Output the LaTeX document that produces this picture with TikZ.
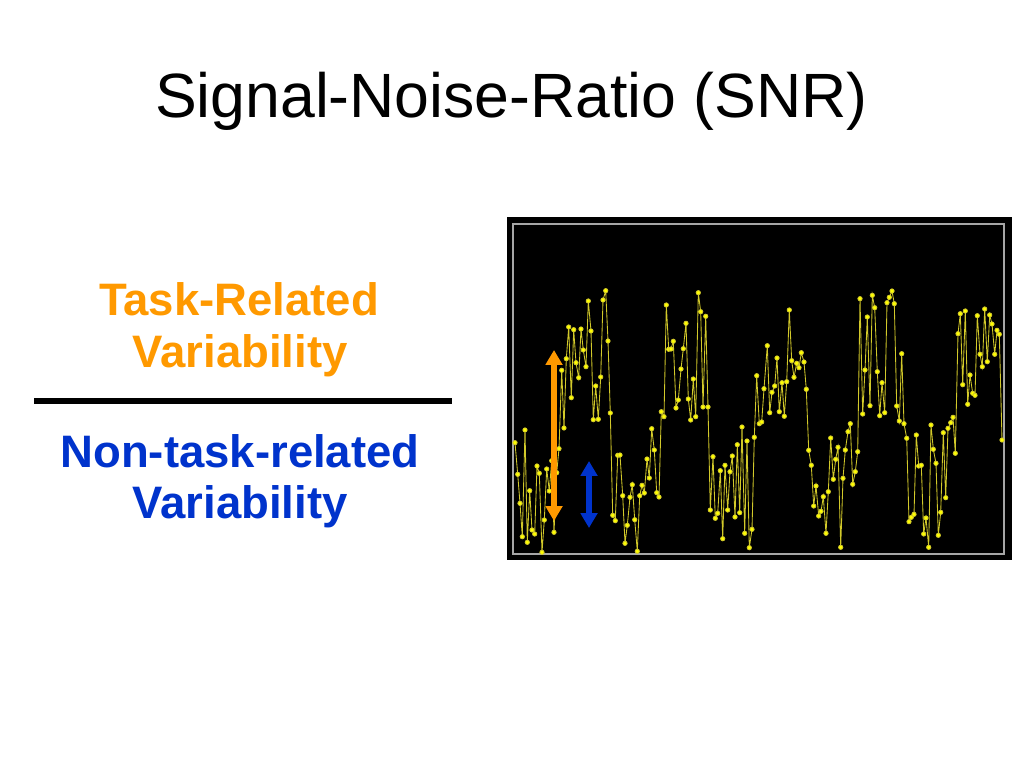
\documentclass[tikz,border=0pt]{standalone}
\usepackage{fontspec}
\setmainfont{Liberation Sans}
\usetikzlibrary{arrows.meta}
\definecolor{taskorange}{RGB}{255,153,0}
\definecolor{noiseblue}{RGB}{0,51,204}
\definecolor{signalyellow}{RGB}{255,255,0}
\begin{document}
\begin{tikzpicture}[x=0.703125pt,y=-0.703125pt,
        txt/.style={anchor=base,inner sep=0pt,font=\bfseries\fontsize{32}{38}\selectfont},
        vararrow/.style={line width=4.2pt,{Triangle[width=11.5pt,length=10.5pt]}-{Triangle[width=11.5pt,length=10.5pt]}}]
        \useasboundingbox (0,0) rectangle (1024,768);
        \pgfmathsetmacro{\Left}{507}
        \pgfmathsetmacro{\Right}{1012}
        \pgfmathsetmacro{\Top}{217}
        \pgfmathsetmacro{\Bottom}{560}

        \node[anchor=base,inner sep=0pt,font=\fontsize{44}{53}\selectfont] (title) at (511.5,118) {Signal-Noise-Ratio (SNR)};

        \node[txt,text=taskorange] (task) at (239,315) {Task-Related};
        \node[txt,text=taskorange] (taskvar) at (240,367) {Variability};
        \coordinate (L1) at (34,401);
        \coordinate (L2) at (452,401);
        \draw[line width=3.8pt] (L1) -- (L2);% fraction bar
        \node[txt,text=noiseblue] (noise) at (240,467) {Non-task-related};
        \node[txt,text=noiseblue] (noisevar) at (240,518) {Variability};

        \fill[black] (\Left,\Top) rectangle (\Right,\Bottom);% plot background
        \draw[gray!70,line width=0.8pt] (513,224) rectangle (1004,554);% plot frame

        \draw[yellow!80!black,line width=0.6pt] plot[mark=*,mark size=1.5pt,mark options={solid,draw=none,fill=signalyellow}] coordinates {
            (515.0,442.7) (517.7,474.3) (520.0,503.3) (522.3,536.7) (525.0,430.0) (527.3,542.3) (529.7,490.7) (532.0,530.0)
            (534.7,534.0) (537.0,466.0) (539.3,473.3) (542.0,552.3) (544.3,520.0) (546.7,469.0) (549.3,491.0) (551.7,460.7)
            (554.0,532.3) (556.7,472.7) (559.0,448.7) (561.7,370.3) (564.0,428.0) (566.3,358.7) (568.7,327.0) (571.3,397.7)
            (573.7,329.7) (576.0,362.7) (578.7,377.7) (581.0,329.0) (583.3,350.0) (586.0,366.7) (588.3,301.0) (591.0,331.0)
            (593.3,419.7) (595.7,386.0) (598.3,419.3) (600.7,377.0) (603.0,300.0) (605.7,290.7) (608.0,341.0) (610.3,413.0)
            (612.7,515.3) (615.3,520.7) (617.7,455.3) (620.0,455.0) (622.7,495.7) (625.0,543.3) (627.3,525.3) (630.0,497.3)
            (632.3,484.7) (634.7,519.7) (637.3,551.3) (639.7,495.7) (642.0,485.3) (644.3,493.0) (647.0,459.0) (649.3,478.0)
            (651.7,428.7) (654.3,450.0) (656.7,492.7) (659.0,497.0) (661.3,411.7) (664.0,416.7) (666.3,305.0) (668.7,349.3)
            (671.0,349.0) (673.3,341.3) (676.0,408.0) (678.3,400.0) (681.0,369.0) (683.3,348.7) (686.0,323.3) (688.3,399.0)
            (690.7,420.0) (693.3,379.0) (695.7,416.7) (698.3,292.7) (700.7,311.7) (703.0,407.0) (705.7,316.3) (708.0,407.0)
            (710.3,510.0) (713.0,456.7) (715.3,518.3) (717.7,513.3) (720.3,470.7) (722.7,538.7) (725.0,465.3) (727.7,510.0)
            (730.0,471.7) (732.3,456.0) (735.0,517.0) (737.3,444.7) (739.7,512.7) (742.0,427.0) (744.7,533.3) (747.0,441.0)
            (749.3,547.7) (752.0,529.3) (754.3,437.3) (756.7,375.7) (759.3,423.7) (761.7,422.0) (764.0,388.7) (767.3,345.7)
            (769.7,412.7) (772.0,392.3) (774.7,386.0) (777.0,358.0) (779.3,411.7) (782.0,382.7) (784.3,416.3) (786.7,381.7)
            (789.3,310.0) (791.7,360.7) (794.0,377.3) (796.7,363.3) (799.0,367.7) (801.3,352.7) (804.0,362.0) (806.3,389.3)
            (808.7,450.3) (811.3,465.3) (813.7,506.0) (816.0,486.0) (818.7,516.0) (821.0,511.3) (823.3,496.7) (826.0,533.3)
            (828.3,491.7) (830.7,438.0) (833.3,479.3) (835.7,459.3) (838.0,447.3) (840.7,547.3) (843.0,478.3) (845.3,450.0)
            (848.0,431.7) (850.3,423.7) (852.7,484.3) (855.3,471.7) (857.7,451.7) (860.0,298.7) (862.7,414.0) (865.0,370.0)
            (867.3,317.0) (870.0,405.7) (872.3,295.3) (874.7,307.7) (877.3,371.7) (879.7,415.7) (882.0,382.7) (884.7,412.7)
            (887.0,302.7) (889.3,297.3) (892.0,291.0) (894.3,303.7) (896.7,406.0) (899.3,421.0) (901.7,353.7) (904.0,423.7)
            (906.7,438.3) (909.0,521.7) (911.3,517.3) (914.0,514.3) (916.3,435.0) (918.7,466.0) (921.3,465.3) (923.7,534.0)
            (926.0,518.0) (928.7,547.3) (931.0,425.0) (933.3,449.3) (936.0,463.3) (938.3,535.3) (940.7,512.3) (943.3,432.7)
            (945.7,497.7) (948.0,428.3) (950.7,422.7) (953.0,417.3) (955.3,453.3) (958.0,333.7) (960.3,313.7) (962.7,384.7)
            (965.3,311.0) (967.7,404.3) (970.0,375.0) (972.7,393.3) (975.0,395.3) (977.3,315.7) (980.0,354.3) (982.3,366.7)
            (984.7,309.0) (987.3,361.7) (989.7,315.0) (992.0,324.0) (994.7,354.3) (997.0,330.3) (999.3,334.3) (1002.0,440.0)
        };

        \coordinate (oa1) at (554,350);
        \coordinate (oa2) at (554,521);
        \coordinate (ba1) at (589,461);
        \coordinate (ba2) at (589,528);
        \draw[vararrow,taskorange] (oa1) -- (oa2);% task-related spread
        \draw[vararrow,noiseblue] (ba1) -- (ba2);% noise spread
    \end{tikzpicture}
\end{document}
